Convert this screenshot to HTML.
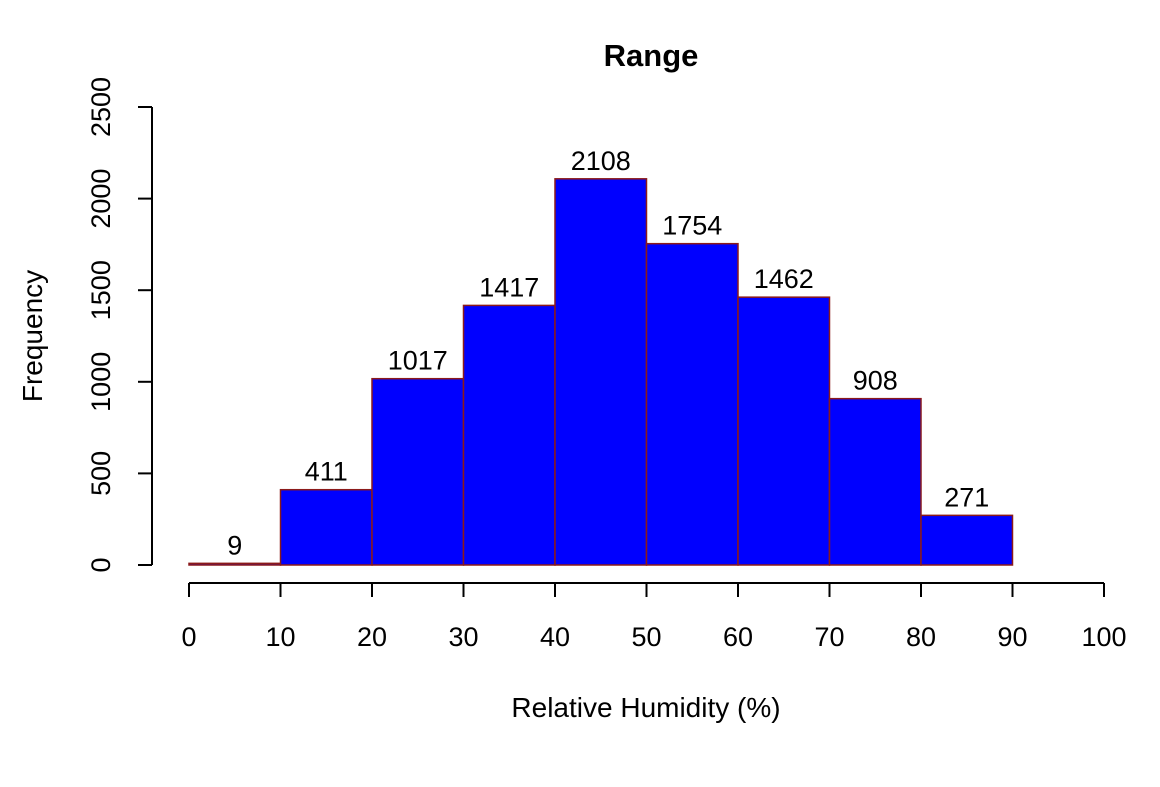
<!DOCTYPE html>
<html><head><meta charset="utf-8"><style>
body{margin:0;background:#fff}
svg text{font-family:"Liberation Sans",Arial,sans-serif;fill:#000}
</style></head><body>
<svg width="1160" height="782" xmlns="http://www.w3.org/2000/svg">
<rect width="1160" height="782" fill="#fff"/>
<text x="651" y="66" font-size="31" font-weight="bold" text-anchor="middle">Range</text>
<text x="646" y="717" font-size="28" text-anchor="middle">Relative Humidity (%)</text>
<text transform="translate(42,336) rotate(-90)" font-size="28" text-anchor="middle">Frequency</text>
<g id="bars"></g><g id="xaxis"></g><g id="yaxis"></g>
</svg>
<script>
const binStarts=[0,10,20,30,40,50,60,70,80];
const binWidth=10;
const counts=[9,411,1017,1417,2108,1754,1462,908,271];
const xTicks=[0,10,20,30,40,50,60,70,80,90,100];
const yTicks=[0,500,1000,1500,2000,2500];
const NS="http://www.w3.org/2000/svg";
const xs=v=>189+v*9.15;
const ys=v=>565-v*0.1832;
function mk(t,a,p){const e=document.createElementNS(NS,t);for(const k in a)e.setAttribute(k,a[k]);p.appendChild(e);return e;}
const bars=document.getElementById('bars');
counts.forEach((c,i)=>{
 const x0=xs(binStarts[i]),x1=xs(binStarts[i]+binWidth);
 const r=mk('rect',{x:x0,y:ys(c),width:x1-x0,height:ys(0)-ys(c),fill:'#0000FF',stroke:'#8B1A1A','stroke-width':1.5},bars);
 
 
 const t=mk('text',{x:(x0+x1)/2,y:ys(c)-9,'font-size':27,'text-anchor':'middle'},bars);
 t.textContent=c;
 
 
});
const xa=document.getElementById('xaxis');
mk('line',{x1:xs(0),x2:xs(100),y1:583,y2:583,stroke:'#000','stroke-width':2},xa);
xTicks.forEach(v=>{
 mk('line',{x1:xs(v),x2:xs(v),y1:583,y2:597,stroke:'#000','stroke-width':2},xa);
 const t=mk('text',{x:xs(v),y:646,'font-size':27,'text-anchor':'middle'},xa);
 t.textContent=v;
 
 
});
const ya=document.getElementById('yaxis');
mk('line',{x1:152,x2:152,y1:ys(0),y2:ys(2500),stroke:'#000','stroke-width':2},ya);
yTicks.forEach(v=>{
 mk('line',{x1:138,x2:152,y1:ys(v),y2:ys(v),stroke:'#000','stroke-width':2},ya);
 const t=mk('text',{transform:'translate(110,'+ys(v)+') rotate(-90)','font-size':27,'text-anchor':'middle'},ya);
 t.textContent=v;
 
 
});
</script>
</body></html>
